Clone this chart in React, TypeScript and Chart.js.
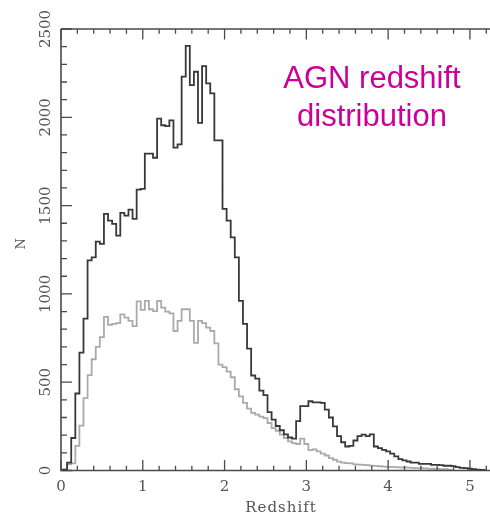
import React, { useEffect, useRef } from "react";
import { Chart, registerables } from "chart.js";

Chart.register(...registerables);

// Histogram bin width (redshift) — bins are centred on multiples of this
const binWidth = 0.05;

// Total AGN counts per bin (dark histogram), bins centred at 0.00, 0.05, ...
const totalCounts = [
  0, 5, 45, 184, 436, 667, 860, 1190, 1207, 1296,
  1283, 1453, 1415, 1396, 1330, 1459, 1443, 1477, 1425, 1591,
  1595, 1794, 1794, 1771, 1993, 1955, 1950, 1983, 1828, 1847,
  2230, 2404, 2182, 2258, 1968, 2290, 2192, 2135, 1869, 1869,
  1481, 1415, 1320, 1207, 960, 830, 690, 538, 520, 452,
  427, 330, 288, 252, 228, 205, 187, 180, 280, 365,
  365, 392, 386, 386, 383, 345, 300, 250, 195, 160,
  136, 140, 170, 195, 203, 195, 205, 136, 127, 117,
  108, 95, 80, 64, 57, 51, 45, 45, 38, 38,
  38, 32, 32, 30, 27, 27, 25, 19, 15, 13,
  10, 8, 5, 3, 0,
];

// Sub-sample counts per bin (light histogram)
const subsetCounts = [
  0, 5, 35, 40, 140, 254, 410, 540, 630, 700,
  755, 870, 825, 830, 835, 884, 866, 847, 818, 958,
  910, 960, 913, 903, 960, 922, 900, 890, 790, 847,
  913, 913, 847, 723, 847, 835, 809, 790, 720, 600,
  585, 560, 528, 460, 420, 383, 350, 326, 316, 305,
  297, 269, 240, 225, 203, 184, 165, 155, 150, 180,
  150, 115, 120, 108, 95, 85, 70, 61, 50, 45,
  42, 40, 35, 33, 32, 30, 28, 26, 24, 22,
  21, 20, 19, 18, 17, 16, 15, 14, 13, 12,
  11, 10, 9, 8, 7, 5, 0,
];

const xTickLabels = ["0", "1", "2", "3", "4", "5"];
const yTickLabels = ["0", "500", "1000", "1500", "2000", "2500"];
const xTitle = "Redshift";
const yTitle = "N";
const annotationLines = ["AGN redshift", "distribution"];

const toPoints = (arr: number[]) =>
  arr.map((v, i) => ({ x: +(i * binWidth).toFixed(2), y: v }));

const framePlugin = {
  id: "pgframe",
  afterDraw(chart: any) {
    const { ctx, chartArea, scales } = chart;
    const xs = scales.x;
    const ys = scales.y;
    const { left, right, top, bottom } = chartArea;
    ctx.save();
    ctx.strokeStyle = "#4a4a4a";
    ctx.lineWidth = 1.6;
    ctx.beginPath();
    ctx.moveTo(left, top);
    ctx.lineTo(left, bottom);
    ctx.lineTo(right, bottom);
    ctx.lineTo(right, top);
    ctx.lineTo(left, top);
    ctx.stroke();

    // x ticks (major every 1, minor every 0.2), bottom and top, inward
    ctx.lineWidth = 1.3;
    ctx.beginPath();
    for (let i = 0; i <= 26; i++) {
      const v = i * 0.2;
      const px = xs.getPixelForValue(v);
      const len = i % 5 === 0 ? 10.5 : 4.8;
      ctx.moveTo(px, bottom);
      ctx.lineTo(px, bottom - len);
      ctx.moveTo(px, top);
      ctx.lineTo(px, top + len);
    }
    // y ticks (major every 500, minor every 100), left and right
    for (let i = 0; i <= 25; i++) {
      const v = i * 100;
      const py = ys.getPixelForValue(v);
      const len = i % 5 === 0 ? 11 : 6;
      ctx.moveTo(left, py);
      ctx.lineTo(left + len, py);
      ctx.moveTo(right, py);
      ctx.lineTo(right - len, py);
    }
    ctx.stroke();

    // tick labels
    ctx.fillStyle = "#555555";
    ctx.font = '15px "DejaVu Serif"';
    ctx.textAlign = "center";
    ctx.textBaseline = "middle";
    xTickLabels.forEach((lab) => {
      const px = xs.getPixelForValue(Number(lab));
      ctx.fillText(lab, px, 487);
    });
    yTickLabels.forEach((lab) => {
      const py = ys.getPixelForValue(Number(lab));
      ctx.save();
      ctx.translate(46, py);
      ctx.rotate(-Math.PI / 2);
      ctx.fillText(lab, 0, 0);
      ctx.restore();
    });

    // axis titles
    ctx.save();
    (ctx as any).letterSpacing = "1px";
    ctx.fillText(xTitle, (left + right) / 2, 508);
    ctx.restore();
    ctx.save();
    ctx.font = '13px "DejaVu Serif"';
    ctx.translate(22, (top + bottom) / 2 - 6);
    ctx.rotate(-Math.PI / 2);
    ctx.fillText(yTitle, 0, 0);
    ctx.restore();

    // annotation
    ctx.fillStyle = "#cc0099";
    ctx.font = '31px "Liberation Sans"';
    ctx.textBaseline = "alphabetic";
    ctx.fillText(annotationLines[0], 372, 88);
    ctx.fillText(annotationLines[1], 372, 126);
    ctx.restore();
  },
};

export default function App() {
  const canvasRef = useRef<HTMLCanvasElement | null>(null);

  useEffect(() => {
    document.body.style.margin = "0";
    const canvas = canvasRef.current;
    if (!canvas) return;
    const chart = new Chart(canvas, {
      type: "line",
      data: {
        datasets: [
          {
            label: "All AGN",
            data: toPoints(totalCounts),
            borderColor: "#383838",
            borderWidth: 1.8,
            stepped: "middle",
            pointRadius: 0,
            fill: false,
          },
          {
            label: "Subset",
            data: toPoints(subsetCounts),
            borderColor: "#aaaaaa",
            borderWidth: 1.8,
            stepped: "middle",
            pointRadius: 0,
            fill: false,
          },
        ],
      },
      options: {
        animation: false,
        responsive: false,
        devicePixelRatio: 1,
        layout: { padding: { top: 29, right: 1, left: 0, bottom: 0 } },
        plugins: {
          legend: { display: false },
          tooltip: { enabled: false },
        },
        scales: {
          x: {
            type: "linear",
            min: 0,
            max: 5.38,
            grid: { display: false },
            border: { display: false },
            ticks: { display: false },
            afterFit: (s: any) => {
              s.height = 45.5;
            },
          },
          y: {
            type: "linear",
            min: 0,
            max: 2500,
            grid: { display: false },
            border: { display: false },
            ticks: { display: false },
            afterFit: (s: any) => {
              s.width = 61;
            },
          },
        },
      },
      plugins: [framePlugin],
    });
    return () => chart.destroy();
  }, []);

  return (
    <div
      style={{
        width: 490,
        height: 516,
        overflow: "hidden",
        position: "relative",
        background: "#ffffff",
      }}
    >
      <canvas
        ref={canvasRef}
        width={502}
        height={516}
        style={{ display: "block", width: 502, height: 516 }}
      />
    </div>
  );
}
